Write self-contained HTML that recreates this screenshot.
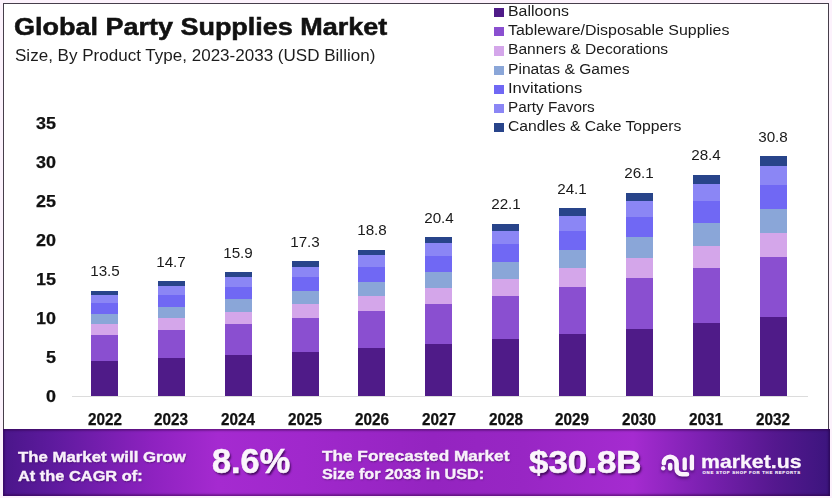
<!DOCTYPE html>
<html><head><meta charset="utf-8">
<style>
html,body{margin:0;padding:0;}
body{width:832px;height:498px;position:relative;overflow:hidden;background:#fcf2fc;font-family:"Liberation Sans",sans-serif;}
div{transform-origin:0 0;}
#frame{position:absolute;left:3px;top:3px;width:824px;height:440px;border:1px solid #463e4b;border-bottom:none;background:#ffffff;}
.seg{position:absolute;width:27px;}
.val{position:absolute;width:100px;text-align:center;color:#1a1a1a;line-height:18px;}
.yr{position:absolute;width:100px;text-align:center;font-weight:bold;color:#111;-webkit-text-stroke:0.25px #111;line-height:18px;}
.yl{position:absolute;width:100px;text-align:right;font-weight:bold;color:#111;-webkit-text-stroke:0.25px #111;line-height:18px;}
#axis{position:absolute;left:72px;top:396px;width:736px;height:1px;background:#dcdcdc;}
.lsq{position:absolute;left:494px;width:10px;height:9.3px;}
.ltx{position:absolute;color:#1a1a1a;line-height:18px;white-space:nowrap;}
#title{position:absolute;font-weight:bold;color:#111;-webkit-text-stroke:0.5px #111;line-height:28px;white-space:nowrap;}
#sub{position:absolute;color:#1c1c1c;line-height:18px;white-space:nowrap;}
#banner{position:absolute;left:3px;top:429px;width:827px;height:67px;background:linear-gradient(90deg,#4a168a 0px,#5e1a9e 50px,#8e22c0 150px,#a52ad0 215px,#a028cc 300px,#9424c0 430px,#9826c4 520px,#a52bd0 630px,#7a20b0 702px,#55188f 771px,#3c157e 826px);box-shadow:inset 0 2px 2px rgba(50,0,70,0.35), inset 0 -2px 2px rgba(50,0,70,0.35), inset -2px 0 2px rgba(30,0,50,0.3), inset 2px 0 2px rgba(30,0,50,0.25);}
.bt{position:absolute;color:#f9f0fb;-webkit-text-stroke:0.4px #f9f0fb;text-shadow:0.5px 1px 1.5px rgba(40,0,60,0.55);font-weight:bold;font-size:15px;line-height:19px;white-space:nowrap;}
.big{position:absolute;color:#fbf5fc;-webkit-text-stroke:0.6px #fbf5fc;font-weight:bold;white-space:nowrap;text-shadow:1.5px 2px 2px rgba(40,0,60,0.75);}
</style></head><body>
<div id="frame"></div>
<div id="title" style="left:14px;top:12.5px;font-size:23px;transform:scaleX(1.173);">Global Party Supplies Market</div>
<div id="sub" style="left:15px;top:47px;font-size:15.8px;transform:scaleX(1.078);">Size, By Product Type, 2023-2033 (USD Billion)</div>
<div class="lsq" style="top:8.00px;background:#4f1b88"></div><div class="ltx" style="left:507.9px;top:2.00px;font-size:14px;transform:scaleX(1.134)">Balloons</div><div class="lsq" style="top:27.18px;background:#8a4fd0"></div><div class="ltx" style="left:507.9px;top:21.18px;font-size:14px;transform:scaleX(1.138)">Tableware/Disposable Supplies</div><div class="lsq" style="top:46.36px;background:#d4a6ea"></div><div class="ltx" style="left:507.9px;top:40.36px;font-size:14px;transform:scaleX(1.112)">Banners &amp; Decorations</div><div class="lsq" style="top:65.54px;background:#8aa6d8"></div><div class="ltx" style="left:507.9px;top:59.54px;font-size:14px;transform:scaleX(1.116)">Pinatas &amp; Games</div><div class="lsq" style="top:84.72px;background:#7068f4"></div><div class="ltx" style="left:507.9px;top:78.72px;font-size:14px;transform:scaleX(1.178)">Invitations</div><div class="lsq" style="top:103.90px;background:#8b86f5"></div><div class="ltx" style="left:507.9px;top:97.90px;font-size:14px;transform:scaleX(1.093)">Party Favors</div><div class="lsq" style="top:123.08px;background:#28448a"></div><div class="ltx" style="left:507.9px;top:117.08px;font-size:14px;transform:scaleX(1.121)">Candles &amp; Cake Toppers</div>
<div class="yl" style="left:-44.00px;top:387.80px;font-size:16px;transform:scaleX(1.12);transform-origin:100% 0">0</div><div class="yl" style="left:-44.00px;top:348.84px;font-size:16px;transform:scaleX(1.12);transform-origin:100% 0">5</div><div class="yl" style="left:-44.00px;top:309.88px;font-size:16px;transform:scaleX(1.12);transform-origin:100% 0">10</div><div class="yl" style="left:-44.00px;top:270.92px;font-size:16px;transform:scaleX(1.12);transform-origin:100% 0">15</div><div class="yl" style="left:-44.00px;top:231.96px;font-size:16px;transform:scaleX(1.12);transform-origin:100% 0">20</div><div class="yl" style="left:-44.00px;top:192.99px;font-size:16px;transform:scaleX(1.12);transform-origin:100% 0">25</div><div class="yl" style="left:-44.00px;top:154.03px;font-size:16px;transform:scaleX(1.12);transform-origin:100% 0">30</div><div class="yl" style="left:-44.00px;top:115.07px;font-size:16px;transform:scaleX(1.12);transform-origin:100% 0">35</div>
<div id="axis"></div>
<div class="seg" style="left:91.00px;top:361.29px;height:34.71px;background:#4f1b88"></div><div class="seg" style="left:91.00px;top:335.09px;height:26.19px;background:#8a4fd0"></div><div class="seg" style="left:91.00px;top:324.47px;height:10.62px;background:#d4a6ea"></div><div class="seg" style="left:91.00px;top:313.95px;height:10.52px;background:#8aa6d8"></div><div class="seg" style="left:91.00px;top:303.32px;height:10.62px;background:#7068f4"></div><div class="seg" style="left:91.00px;top:295.01px;height:8.31px;background:#8b86f5"></div><div class="seg" style="left:91.00px;top:290.81px;height:4.21px;background:#28448a"></div><div class="val" style="left:54.50px;top:262.31px;font-size:14.5px;transform:scaleX(1.05);transform-origin:50% 0">13.5</div><div class="yr" style="left:54.50px;top:411.3px;font-size:15.7px;transform:scaleX(0.975);transform-origin:50% 0">2022</div><div class="seg" style="left:157.85px;top:358.20px;height:37.80px;background:#4f1b88"></div><div class="seg" style="left:157.85px;top:329.68px;height:28.52px;background:#8a4fd0"></div><div class="seg" style="left:157.85px;top:318.11px;height:11.57px;background:#d4a6ea"></div><div class="seg" style="left:157.85px;top:306.65px;height:11.45px;background:#8aa6d8"></div><div class="seg" style="left:157.85px;top:295.09px;height:11.57px;background:#7068f4"></div><div class="seg" style="left:157.85px;top:286.04px;height:9.05px;background:#8b86f5"></div><div class="seg" style="left:157.85px;top:281.45px;height:4.58px;background:#28448a"></div><div class="val" style="left:121.35px;top:252.95px;font-size:14.5px;transform:scaleX(1.05);transform-origin:50% 0">14.7</div><div class="yr" style="left:121.35px;top:411.3px;font-size:15.7px;transform:scaleX(0.975);transform-origin:50% 0">2023</div><div class="seg" style="left:224.70px;top:355.11px;height:40.89px;background:#4f1b88"></div><div class="seg" style="left:224.70px;top:324.26px;height:30.85px;background:#8a4fd0"></div><div class="seg" style="left:224.70px;top:311.75px;height:12.51px;background:#d4a6ea"></div><div class="seg" style="left:224.70px;top:299.36px;height:12.39px;background:#8aa6d8"></div><div class="seg" style="left:224.70px;top:286.85px;height:12.51px;background:#7068f4"></div><div class="seg" style="left:224.70px;top:277.06px;height:9.79px;background:#8b86f5"></div><div class="seg" style="left:224.70px;top:272.10px;height:4.96px;background:#28448a"></div><div class="val" style="left:188.20px;top:243.60px;font-size:14.5px;transform:scaleX(1.05);transform-origin:50% 0">15.9</div><div class="yr" style="left:188.20px;top:411.3px;font-size:15.7px;transform:scaleX(0.975);transform-origin:50% 0">2024</div><div class="seg" style="left:291.55px;top:351.51px;height:44.49px;background:#4f1b88"></div><div class="seg" style="left:291.55px;top:317.95px;height:33.57px;background:#8a4fd0"></div><div class="seg" style="left:291.55px;top:304.33px;height:13.62px;background:#d4a6ea"></div><div class="seg" style="left:291.55px;top:290.85px;height:13.48px;background:#8aa6d8"></div><div class="seg" style="left:291.55px;top:277.24px;height:13.62px;background:#7068f4"></div><div class="seg" style="left:291.55px;top:266.59px;height:10.65px;background:#8b86f5"></div><div class="seg" style="left:291.55px;top:261.19px;height:5.39px;background:#28448a"></div><div class="val" style="left:255.05px;top:232.69px;font-size:14.5px;transform:scaleX(1.05);transform-origin:50% 0">17.3</div><div class="yr" style="left:255.05px;top:411.3px;font-size:15.7px;transform:scaleX(0.975);transform-origin:50% 0">2025</div><div class="seg" style="left:358.40px;top:347.66px;height:48.34px;background:#4f1b88"></div><div class="seg" style="left:358.40px;top:311.18px;height:36.48px;background:#8a4fd0"></div><div class="seg" style="left:358.40px;top:296.38px;height:14.80px;background:#d4a6ea"></div><div class="seg" style="left:358.40px;top:281.74px;height:14.65px;background:#8aa6d8"></div><div class="seg" style="left:358.40px;top:266.94px;height:14.80px;background:#7068f4"></div><div class="seg" style="left:358.40px;top:255.37px;height:11.57px;background:#8b86f5"></div><div class="seg" style="left:358.40px;top:249.51px;height:5.86px;background:#28448a"></div><div class="val" style="left:321.90px;top:221.01px;font-size:14.5px;transform:scaleX(1.05);transform-origin:50% 0">18.8</div><div class="yr" style="left:321.90px;top:411.3px;font-size:15.7px;transform:scaleX(0.975);transform-origin:50% 0">2026</div><div class="seg" style="left:425.25px;top:343.54px;height:52.46px;background:#4f1b88"></div><div class="seg" style="left:425.25px;top:303.96px;height:39.58px;background:#8a4fd0"></div><div class="seg" style="left:425.25px;top:287.91px;height:16.06px;background:#d4a6ea"></div><div class="seg" style="left:425.25px;top:272.01px;height:15.90px;background:#8aa6d8"></div><div class="seg" style="left:425.25px;top:255.96px;height:16.06px;background:#7068f4"></div><div class="seg" style="left:425.25px;top:243.40px;height:12.56px;background:#8b86f5"></div><div class="seg" style="left:425.25px;top:237.04px;height:6.36px;background:#28448a"></div><div class="val" style="left:388.75px;top:208.54px;font-size:14.5px;transform:scaleX(1.05);transform-origin:50% 0">20.4</div><div class="yr" style="left:388.75px;top:411.3px;font-size:15.7px;transform:scaleX(0.975);transform-origin:50% 0">2027</div><div class="seg" style="left:492.10px;top:339.17px;height:56.83px;background:#4f1b88"></div><div class="seg" style="left:492.10px;top:296.29px;height:42.88px;background:#8a4fd0"></div><div class="seg" style="left:492.10px;top:278.90px;height:17.39px;background:#d4a6ea"></div><div class="seg" style="left:492.10px;top:261.68px;height:17.22px;background:#8aa6d8"></div><div class="seg" style="left:492.10px;top:244.28px;height:17.39px;background:#7068f4"></div><div class="seg" style="left:492.10px;top:230.68px;height:13.60px;background:#8b86f5"></div><div class="seg" style="left:492.10px;top:223.79px;height:6.89px;background:#28448a"></div><div class="val" style="left:455.60px;top:195.29px;font-size:14.5px;transform:scaleX(1.05);transform-origin:50% 0">22.1</div><div class="yr" style="left:455.60px;top:411.3px;font-size:15.7px;transform:scaleX(0.975);transform-origin:50% 0">2028</div><div class="seg" style="left:558.95px;top:334.03px;height:61.97px;background:#4f1b88"></div><div class="seg" style="left:558.95px;top:287.27px;height:46.76px;background:#8a4fd0"></div><div class="seg" style="left:558.95px;top:268.30px;height:18.97px;background:#d4a6ea"></div><div class="seg" style="left:558.95px;top:249.52px;height:18.78px;background:#8aa6d8"></div><div class="seg" style="left:558.95px;top:230.56px;height:18.97px;background:#7068f4"></div><div class="seg" style="left:558.95px;top:215.72px;height:14.84px;background:#8b86f5"></div><div class="seg" style="left:558.95px;top:208.21px;height:7.51px;background:#28448a"></div><div class="val" style="left:522.45px;top:179.71px;font-size:14.5px;transform:scaleX(1.05);transform-origin:50% 0">24.1</div><div class="yr" style="left:522.45px;top:411.3px;font-size:15.7px;transform:scaleX(0.975);transform-origin:50% 0">2029</div><div class="seg" style="left:625.80px;top:328.89px;height:67.11px;background:#4f1b88"></div><div class="seg" style="left:625.80px;top:278.24px;height:50.64px;background:#8a4fd0"></div><div class="seg" style="left:625.80px;top:257.70px;height:20.54px;background:#d4a6ea"></div><div class="seg" style="left:625.80px;top:237.37px;height:20.34px;background:#8aa6d8"></div><div class="seg" style="left:625.80px;top:216.83px;height:20.54px;background:#7068f4"></div><div class="seg" style="left:625.80px;top:200.76px;height:16.07px;background:#8b86f5"></div><div class="seg" style="left:625.80px;top:192.62px;height:8.14px;background:#28448a"></div><div class="val" style="left:589.30px;top:164.12px;font-size:14.5px;transform:scaleX(1.05);transform-origin:50% 0">26.1</div><div class="yr" style="left:589.30px;top:411.3px;font-size:15.7px;transform:scaleX(0.975);transform-origin:50% 0">2030</div><div class="seg" style="left:692.65px;top:322.97px;height:73.03px;background:#4f1b88"></div><div class="seg" style="left:692.65px;top:267.87px;height:55.10px;background:#8a4fd0"></div><div class="seg" style="left:692.65px;top:245.52px;height:22.35px;background:#d4a6ea"></div><div class="seg" style="left:692.65px;top:223.39px;height:22.13px;background:#8aa6d8"></div><div class="seg" style="left:692.65px;top:201.04px;height:22.35px;background:#7068f4"></div><div class="seg" style="left:692.65px;top:183.55px;height:17.48px;background:#8b86f5"></div><div class="seg" style="left:692.65px;top:174.70px;height:8.85px;background:#28448a"></div><div class="val" style="left:656.15px;top:146.20px;font-size:14.5px;transform:scaleX(1.05);transform-origin:50% 0">28.4</div><div class="yr" style="left:656.15px;top:411.3px;font-size:15.7px;transform:scaleX(0.975);transform-origin:50% 0">2031</div><div class="seg" style="left:759.50px;top:316.80px;height:79.20px;background:#4f1b88"></div><div class="seg" style="left:759.50px;top:257.04px;height:59.76px;background:#8a4fd0"></div><div class="seg" style="left:759.50px;top:232.80px;height:24.24px;background:#d4a6ea"></div><div class="seg" style="left:759.50px;top:208.80px;height:24.00px;background:#8aa6d8"></div><div class="seg" style="left:759.50px;top:184.56px;height:24.24px;background:#7068f4"></div><div class="seg" style="left:759.50px;top:165.60px;height:18.96px;background:#8b86f5"></div><div class="seg" style="left:759.50px;top:156.00px;height:9.60px;background:#28448a"></div><div class="val" style="left:723.00px;top:127.50px;font-size:14.5px;transform:scaleX(1.05);transform-origin:50% 0">30.8</div><div class="yr" style="left:723.00px;top:411.3px;font-size:15.7px;transform:scaleX(0.975);transform-origin:50% 0">2032</div>
<div id="banner"></div>
<div class="bt" style="left:18px;top:448.3px;font-size:15.5px;line-height:18.7px;transform:scaleX(1.083)">The Market will Grow</div>
<div class="bt" style="left:18px;top:467px;font-size:15.5px;line-height:18.7px;transform:scaleX(1.057)">At the CAGR of:</div>
<div class="big" style="left:212px;top:443px;font-size:35px;line-height:36px;transform:scaleX(0.98)">8.6%</div>
<div class="bt" style="left:321.5px;top:446.5px;font-size:15.5px;line-height:18.9px;transform:scaleX(1.11)">The Forecasted Market</div>
<div class="bt" style="left:321.5px;top:465.4px;font-size:15.5px;line-height:18.9px;transform:scaleX(1.046)">Size for 2033 in USD:</div>
<div class="big" style="left:529px;top:446px;font-size:31px;line-height:33px;transform:scaleX(1.125)">$30.8B</div>
<svg id="logo" width="50" height="40" viewBox="655 448 50 40" style="position:absolute;left:655px;top:448px;overflow:visible">
<g fill="none" stroke="#fbf3fc" stroke-linecap="round" style="filter:drop-shadow(0px 2px 1.5px rgba(40,0,70,0.55))">
<circle cx="663.2" cy="468.3" r="2.2" fill="#fbf3fc" stroke="none"/>
<path d="M663.8 463.2 A6.4 6.4 0 0 1 676.6 463.2 L676.6 468.8 A5.5 5.5 0 0 0 682.1 474.3 L687 474.3" stroke-width="4.6"/>
<path d="M670.2 465 L670.2 468.6" stroke-width="4.5"/>
<path d="M684.7 459.4 L684.7 468.4" stroke-width="4.4"/>
<path d="M691.9 456.8 L691.9 468.4" stroke-width="4.4"/>
</g></svg>
<div class="big" style="left:701px;top:452px;font-size:19px;line-height:20px;text-shadow:none;-webkit-text-stroke:0.3px #fbf5fc;transform:scaleX(1.12)">market.us</div>
<div class="big" style="left:702.5px;top:471.4px;font-size:4.3px;line-height:4px;letter-spacing:0.72px;text-shadow:none;-webkit-text-stroke:0.15px #fbf5fc">ONE STOP SHOP FOR THE REPORTS</div>
</body></html>
